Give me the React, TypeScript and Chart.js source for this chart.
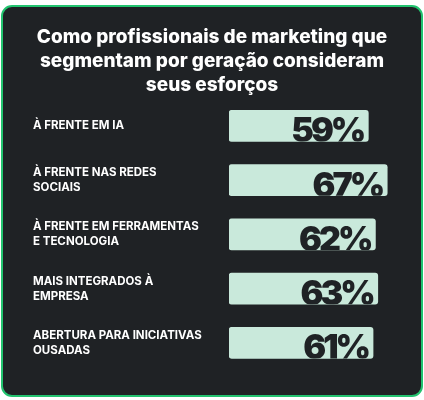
import { useEffect, useRef } from 'react';
import { Chart, registerables } from 'chart.js';

Chart.register(...registerables);

const categories: string[][] = [
  ['À FRENTE EM IA'],
  ['À FRENTE NAS REDES', 'SOCIAIS'],
  ['À FRENTE EM FERRAMENTAS', 'E TECNOLOGIA'],
  ['MAIS INTEGRADOS À', 'EMPRESA'],
  ['ABERTURA PARA INICIATIVAS', 'OUSADAS'],
];
const values = [59, 67, 62, 63, 61];
const titleLines = [
  'Como profissionais de marketing que',
  'segmentam por geração consideram',
  'seus esforços',
];

const BG = '#1f2225';
const BAR = '#c9e9db';

// big percentage written inside the end of each bar
const valueLabels = {
  id: 'valueLabels',
  afterDatasetsDraw(chart: Chart) {
    const ctx = chart.ctx;
    const meta = chart.getDatasetMeta(0);
    meta.data.forEach((bar: any, i: number) => {
      const { x, y, base, height } = bar.getProps(['x', 'y', 'base', 'height'], true);
      const top = y - height / 2;
      const bottom = y + height / 2;
      ctx.save();
      ctx.beginPath();
      ctx.rect(base, top, x - base, height);
      ctx.clip();
      ctx.fillStyle = BG;
      ctx.font = '900 34px Inter';
      (ctx as any).letterSpacing = '-3px';
      ctx.textAlign = 'right';
      ctx.textBaseline = 'alphabetic';
      ctx.fillText(values[i] + '%', x - 5, bottom + 1);
      ctx.restore();
    });
  },
};

export default function App() {
  const canvasRef = useRef<HTMLCanvasElement>(null);
  const chartRef = useRef<Chart | null>(null);

  useEffect(() => {
    if (!canvasRef.current) return;
    chartRef.current?.destroy();

    chartRef.current = new Chart(canvasRef.current, {
      type: 'bar',
      data: {
        labels: categories,
        datasets: [
          {
            data: values,
            backgroundColor: BAR,
            borderRadius: 3,
            borderSkipped: false,
            barThickness: 31,
          },
        ],
      },
      options: {
        indexAxis: 'y',
        animation: false,
        responsive: false,
        layout: { padding: { left: 30, right: 30, top: 0, bottom: 25 } },
        plugins: {
          legend: { display: false },
          tooltip: { enabled: false },
          title: {
            display: true,
            text: titleLines,
            color: '#ffffff',
            font: { family: 'Inter', size: 19, weight: 800, lineHeight: 1.26 },
            padding: { top: 18, bottom: 2 },
          },
        },
        scales: {
          x: { display: false, min: 0, max: 68.6 },
          y: {
            grid: { display: false },
            border: { display: false },
            afterFit: (scale: any) => {
              scale.width = 196;
            },
            ticks: {
              crossAlign: 'far',
              color: '#ffffff',
              padding: 0,
              font: { family: 'Inter', size: 11.5, weight: 700, lineHeight: 1.32 },
            },
          },
        },
      },
      plugins: [valueLabels],
    });

    return () => {
      chartRef.current?.destroy();
      chartRef.current = null;
    };
  }, []);

  return (
    <div
      style={{
        position: 'absolute',
        left: 1,
        top: 5,
        width: 422,
        height: 392,
        boxSizing: 'border-box',
        border: '2px solid #22c36f',
        borderRadius: 11,
        background: BG,
        overflow: 'hidden',
      }}
    >
      <canvas ref={canvasRef} width={418} height={388} style={{ display: 'block' }} />
    </div>
  );
}
